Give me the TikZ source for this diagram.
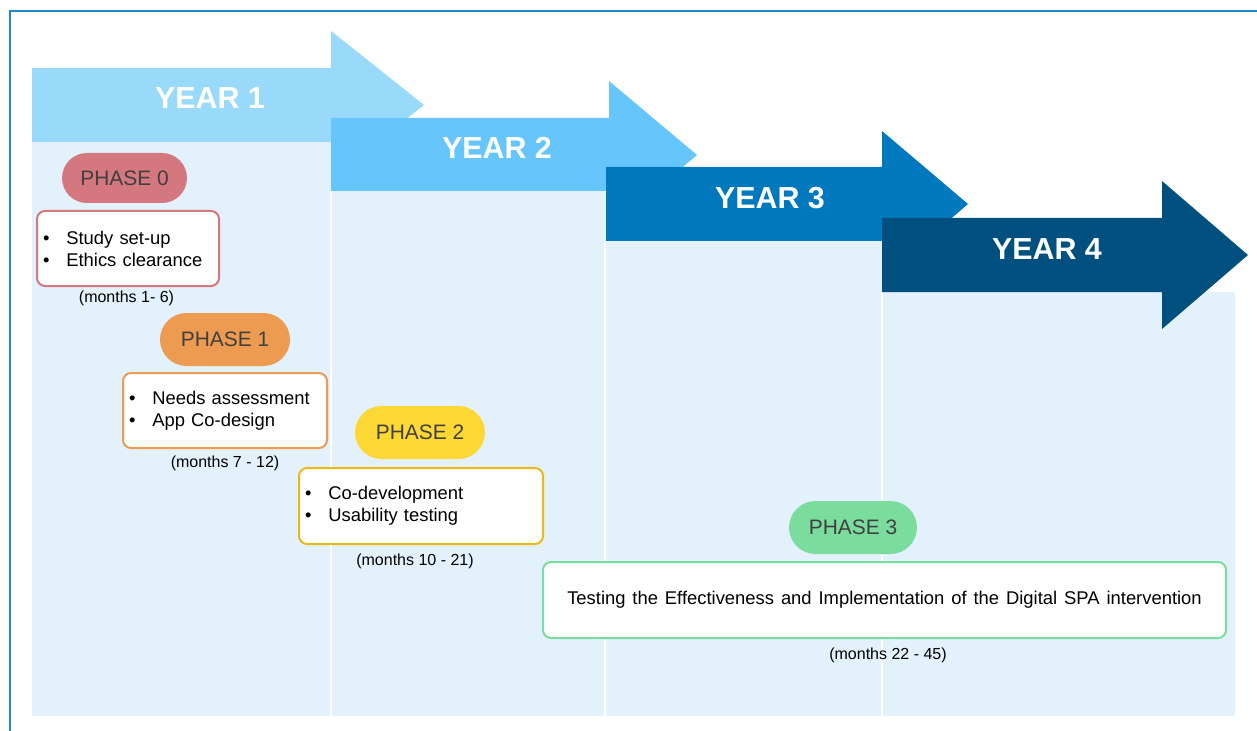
\documentclass[tikz,border=0pt]{standalone}
\usepackage{fontspec}
\setmainfont{Liberation Sans}
\usetikzlibrary{shapes.misc}
\definecolor{frameblue}{HTML}{1E8AC8}
\definecolor{bgblue}{HTML}{E3F1FC}
\definecolor{yearA}{HTML}{99DAFB}
\definecolor{yearB}{HTML}{66C6FC}
\definecolor{yearC}{HTML}{0078BE}
\definecolor{yearD}{HTML}{00507F}
\definecolor{phA}{HTML}{D4777E}
\definecolor{phB}{HTML}{EC9B50}
\definecolor{phC}{HTML}{FDD835}
\definecolor{phCb}{HTML}{E9BB10}
\definecolor{phD}{HTML}{7ADD9D}
\definecolor{ptext}{HTML}{404040}
\newcommand{\blt}{\makebox[17.5pt][l]{\textbullet}}
\tikzset{
  yeartext/.style={anchor=base, text=white, font=\fontsize{22.8}{26}\selectfont\bfseries, inner sep=0pt},
  pill/.style={rounded rectangle, fill=#1, draw=none, text=ptext, font=\fontsize{15.7}{18}\selectfont, minimum width=93.75pt, minimum height=37.5pt, inner sep=0pt},
  taskbox/.style={draw=#1, line width=1.5pt, fill=white, rounded corners=6pt, minimum height=56.25pt, inner xsep=4.5pt, inner ysep=0pt, align=left, font=\fontsize{13.8}{16.5}\selectfont},
  months/.style={font=\fontsize{12}{14}\selectfont, inner sep=0pt, text=black},
}
\begin{document}
\begin{tikzpicture}[x=0.75pt,y=-0.75pt]
\useasboundingbox (0,0) rectangle (1257,731);
\fill[white] (0,0) rectangle (1257,731);
% background columns
\fill[bgblue] (32,142) rectangle (331,716);
\fill[bgblue] (331,191) rectangle (605,716);
\fill[bgblue] (605,241) rectangle (882,716);
\fill[bgblue] (882,292) rectangle (1235,716);
\draw[white, line width=1.2pt] (331,191) -- (331,716);
\draw[white, line width=1.2pt] (605,241) -- (605,716);
\draw[white, line width=1.2pt] (882,292) -- (882,716);
% year arrows
\fill[yearA] (32,68) -- (331,68) -- (331,31) -- (424,105) -- (331,179) -- (331,142) -- (32,142) -- cycle;
\fill[yearB] (331,118) -- (609,118) -- (609,81) -- (697,155) -- (609,229) -- (609,191) -- (331,191) -- cycle;
\fill[yearC] (606,167) -- (882,167) -- (882,131) -- (968,204) -- (882,278) -- (882,241) -- (606,241) -- cycle;
\fill[yearD] (882,218) -- (1162,218) -- (1162,181) -- (1248,255) -- (1162,329) -- (1162,292) -- (882,292) -- cycle;
\node[yeartext] (y1) at (210,109) {YEAR 1};
\node[yeartext] (y2) at (497,159) {YEAR 2};
\node[yeartext] (y3) at (770,209) {YEAR 3};
\node[yeartext] (y4) at (1047,259) {YEAR 4};
% phases
\node[pill=phA] (ph0) at (124.5,178) {PHASE 0};
\node[taskbox=phA, minimum width=136.5pt, text width=127.5pt] (b0) at (128,248.5) {\blt Study set-up\\\blt Ethics clearance};
\node[months] (m0) at (126.5,298) {(months 1- 6)};

\node[pill=phB, minimum width=97.5pt, minimum height=39.75pt] (ph1) at (225,339.5) {PHASE 1};
\node[taskbox=phB, minimum width=153pt, text width=144pt] (b1) at (225,410.5) {\blt Needs assessment\\\blt App Co-design};
\node[months] (m1) at (225,463) {(months 7 - 12)};

\node[pill=phC, minimum width=97.5pt, minimum height=39.75pt] (ph2) at (420,432.5) {PHASE 2};
\node[taskbox=phCb, minimum width=183pt, text width=174pt, minimum height=57pt] (b2) at (421,506) {\blt Co-development\\\blt Usability testing};
\node[months] (m2) at (415,561) {(months 10 - 21)};

\node[pill=phD, minimum width=96pt, minimum height=39.75pt] (ph3) at (853,527.5) {PHASE 3};
\node[taskbox=phD, minimum width=512.25pt, minimum height=57pt, align=center] (b3) at (884.5,600) {\spaceskip=5.2pt plus 1pt\relax Testing the Effectiveness and Implementation of the Digital SPA intervention};
\node[months] (m3) at (888,655) {(months 22 - 45)};
% frame
\draw[frameblue, line width=1.5pt] (1257,11) -- (10,11) -- (10,731);
\end{tikzpicture}
\end{document}
